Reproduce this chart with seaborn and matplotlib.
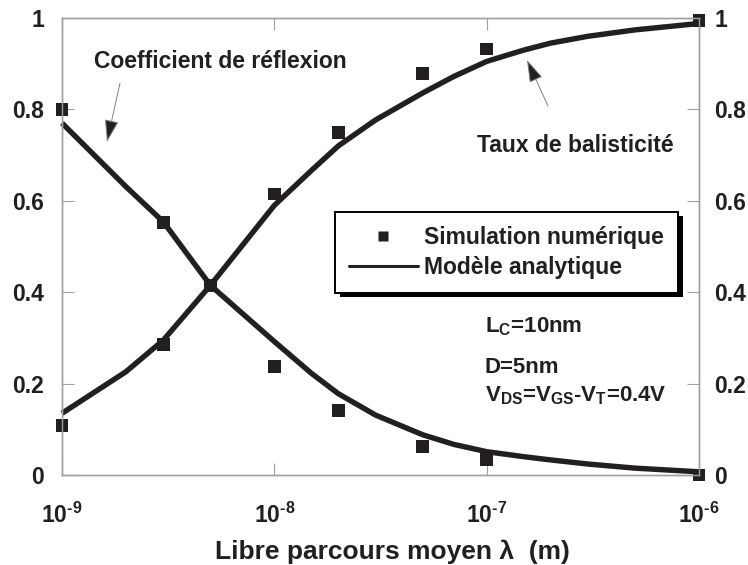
import matplotlib
matplotlib.use("Agg")
import matplotlib.pyplot as plt
import pandas as pd
import seaborn as sns
from matplotlib.lines import Line2D
from matplotlib.patches import Rectangle
from matplotlib.transforms import IdentityTransform
from matplotlib.ticker import FixedLocator, FixedFormatter, NullLocator

# Mean free path (m) of the numerical simulations
lam_sim = [1e-9, 3e-9, 5e-9, 1e-8, 2e-8, 5e-8, 1e-7, 1e-6]
refl_sim = [0.800, 0.552, 0.414, 0.238, 0.141, 0.063, 0.034, 0.000]
ball_sim = [0.109, 0.286, 0.414, 0.615, 0.750, 0.879, 0.932, 0.994]

# Analytic model curves
lam_mod = [1e-9, 2e-9, 3e-9, 5e-9, 1e-8, 1.5e-8, 2e-8, 3e-8, 5e-8, 7e-8,
           1e-7, 1.5e-7, 2e-7, 3e-7, 5e-7, 1e-6]
refl_mod = [0.770, 0.631, 0.554, 0.415, 0.292, 0.222, 0.178, 0.131, 0.088, 0.067,
            0.051, 0.040, 0.033, 0.024, 0.015, 0.007]
ball_mod = [0.135, 0.226, 0.295, 0.415, 0.590, 0.667, 0.720, 0.777, 0.836, 0.872,
            0.905, 0.930, 0.945, 0.960, 0.974, 0.988]

x_ticks = [1e-9, 1e-8, 1e-7, 1e-6]
x_tick_labels = ["$\\mathbf{10^{\u20109}}$", "$\\mathbf{10^{\u20108}}$",
                 "$\\mathbf{10^{\u20107}}$", "$\\mathbf{10^{\u20106}}$"]
y_ticks = [0, 0.2, 0.4, 0.6, 0.8, 1.0]
y_tick_labels = ["0", "0.2", "0.4", "0.6", "0.8", "1"]

legend_labels = ["Simulation numérique", "Modèle analytique"]

sim = pd.DataFrame({
    "lam": lam_sim + lam_sim,
    "val": refl_sim + ball_sim,
    "curve": ["refl"] * len(lam_sim) + ["ball"] * len(lam_sim),
})
mod = pd.DataFrame({
    "lam": lam_mod + lam_mod,
    "val": refl_mod + ball_mod,
    "curve": ["refl"] * len(lam_mod) + ["ball"] * len(lam_mod),
})

sns.set_theme(style="white")
plt.rcParams["font.family"] = ["Liberation Sans", "DejaVu Sans"]
plt.rcParams["font.weight"] = "bold"
plt.rcParams["mathtext.fontset"] = "custom"
plt.rcParams["mathtext.rm"] = "Liberation Sans:bold"
plt.rcParams["mathtext.bf"] = "Liberation Sans:bold"
plt.rcParams["mathtext.it"] = "Liberation Sans:bold:italic"
plt.rcParams["mathtext.sf"] = "Liberation Sans:bold"

INK = "#231f20"
GRID = "#a0a0a0"
TICK_FS = 16.5
NOTE_FS = 16.5

fig = plt.figure(figsize=(7.48, 5.65), dpi=100)
fig.patch.set_facecolor("white")
ax = fig.add_axes([62 / 748, 1 - 475 / 565, 637 / 748, 457 / 565])
ax.set_xscale("log")

sns.lineplot(data=mod, x="lam", y="val", units="curve", estimator=None,
             color=INK, lw=3.9, solid_capstyle="butt", solid_joinstyle="round",
             clip_on=False, legend=False, zorder=2, ax=ax)
sns.scatterplot(data=sim, x="lam", y="val", marker="s", s=84, color=INK,
                edgecolor="none", linewidth=0, clip_on=False,
                legend=False, zorder=3, ax=ax)

ax.set_xlim(1e-9, 1e-6)
ax.set_ylim(0, 1)
ax.xaxis.set_major_locator(FixedLocator(x_ticks))
ax.xaxis.set_major_formatter(FixedFormatter(x_tick_labels))
ax.xaxis.set_minor_locator(NullLocator())
ax.yaxis.set_major_locator(FixedLocator(y_ticks))
ax.yaxis.set_major_formatter(FixedFormatter(y_tick_labels))

ax2 = ax.twinx()
ax2.set_ylim(0, 1)
ax2.yaxis.set_major_locator(FixedLocator(y_ticks))
ax2.yaxis.set_major_formatter(FixedFormatter(y_tick_labels))

for a in (ax, ax2):
    for sp in a.spines.values():
        sp.set_color(GRID)
        sp.set_linewidth(1.0)
        sp.set_visible(True)

ax.tick_params(axis="x", which="major", direction="in", top=True, bottom=True,
               length=8.5, width=0.8, color=GRID, pad=20, labelsize=TICK_FS,
               labelcolor=INK)
ax.tick_params(axis="y", which="major", direction="in", left=True, right=False,
               length=8.5, width=0.8, color=GRID, pad=13, labelsize=TICK_FS,
               labelcolor=INK)
ax2.tick_params(axis="y", which="major", direction="in", right=True, left=False,
                length=8.5, width=0.8, color=GRID, pad=11, labelsize=TICK_FS,
                labelcolor=INK)
for lab in ax.get_yticklabels() + ax2.get_yticklabels():
    lab.set_fontweight("bold")

ax.set_ylabel("")
ax.set_xlabel("Libre parcours moyen λ  (m)", fontsize=19, fontweight="bold",
              color=INK)
ax.xaxis.set_label_coords(0.518, -0.184)
ax.xaxis.label.set_va("baseline")

# Curve annotations
arrow_style = dict(arrowstyle="-|>,head_length=0.7,head_width=0.22",
                   fc=INK, ec="#808080", lw=0.7, mutation_scale=20,
                   shrinkA=0, shrinkB=0)
ax.text(0.2488, 0.890, "Coefficient de réflexion", transform=ax.transAxes,
        ha="center", va="baseline", fontsize=NOTE_FS, fontweight="bold", color=INK)
ax.annotate("", xy=(0.0706, 0.7287), xycoords="axes fraction",
            xytext=(0.0911, 0.8578), textcoords="axes fraction",
            arrowprops=arrow_style)
ax.text(0.8061, 0.7075, "Taux de balisticité", transform=ax.transAxes,
        ha="center", va="baseline", fontsize=NOTE_FS, fontweight="bold", color=INK)
ax.annotate("", xy=(0.730, 0.9081), xycoords="axes fraction",
            xytext=(0.763, 0.8074), textcoords="axes fraction",
            arrowprops=arrow_style)

# Device parameters
ax.text(0.664, 0.311, r"L$_{\mathbf{C}}$=10nm", transform=ax.transAxes,
        ha="left", va="baseline", fontsize=16, fontweight="bold", color=INK)
ax.text(0.664, 0.223, "D=5nm", transform=ax.transAxes,
        ha="left", va="baseline", fontsize=16, fontweight="bold", color=INK)
ax.text(0.664, 0.160, r"V$_{\mathbf{DS}}$=V$_{\mathbf{GS}}$-V$_{\mathbf{T}}$=0.4V",
        transform=ax.transAxes, ha="left", va="baseline", fontsize=16,
        fontweight="bold", color=INK)

# Legend
handles = [
    Line2D([], [], marker="s", ls="none", color=INK, markersize=7.5, mec="none"),
    Line2D([], [], color=INK, lw=2.2),
]
leg = ax.legend(handles, legend_labels, loc="upper left",
                bbox_to_anchor=(0.4286, 0.5755, 0.5385, 0.0), mode="expand",
                borderaxespad=0, fancybox=False, frameon=True, framealpha=1,
                prop={"weight": "bold", "size": 16.5}, handlelength=3.0,
                handletextpad=0.28, borderpad=0.6, labelspacing=0.32,
                labelcolor=INK)
leg.get_frame().set_edgecolor("black")
leg.get_frame().set_linewidth(1.4)
leg.get_frame().set_facecolor("white")
leg.set_zorder(5)

fig.canvas.draw()
bb = leg.get_frame().get_window_extent(fig.canvas.get_renderer())
shadow = Rectangle((bb.x0 + 4.5, bb.y0 - 4.5), bb.width, bb.height,
                   transform=IdentityTransform(), facecolor="black",
                   edgecolor="none", zorder=4.9, clip_on=False)
ax.add_artist(shadow)

fig.savefig("out.png", dpi=100)
